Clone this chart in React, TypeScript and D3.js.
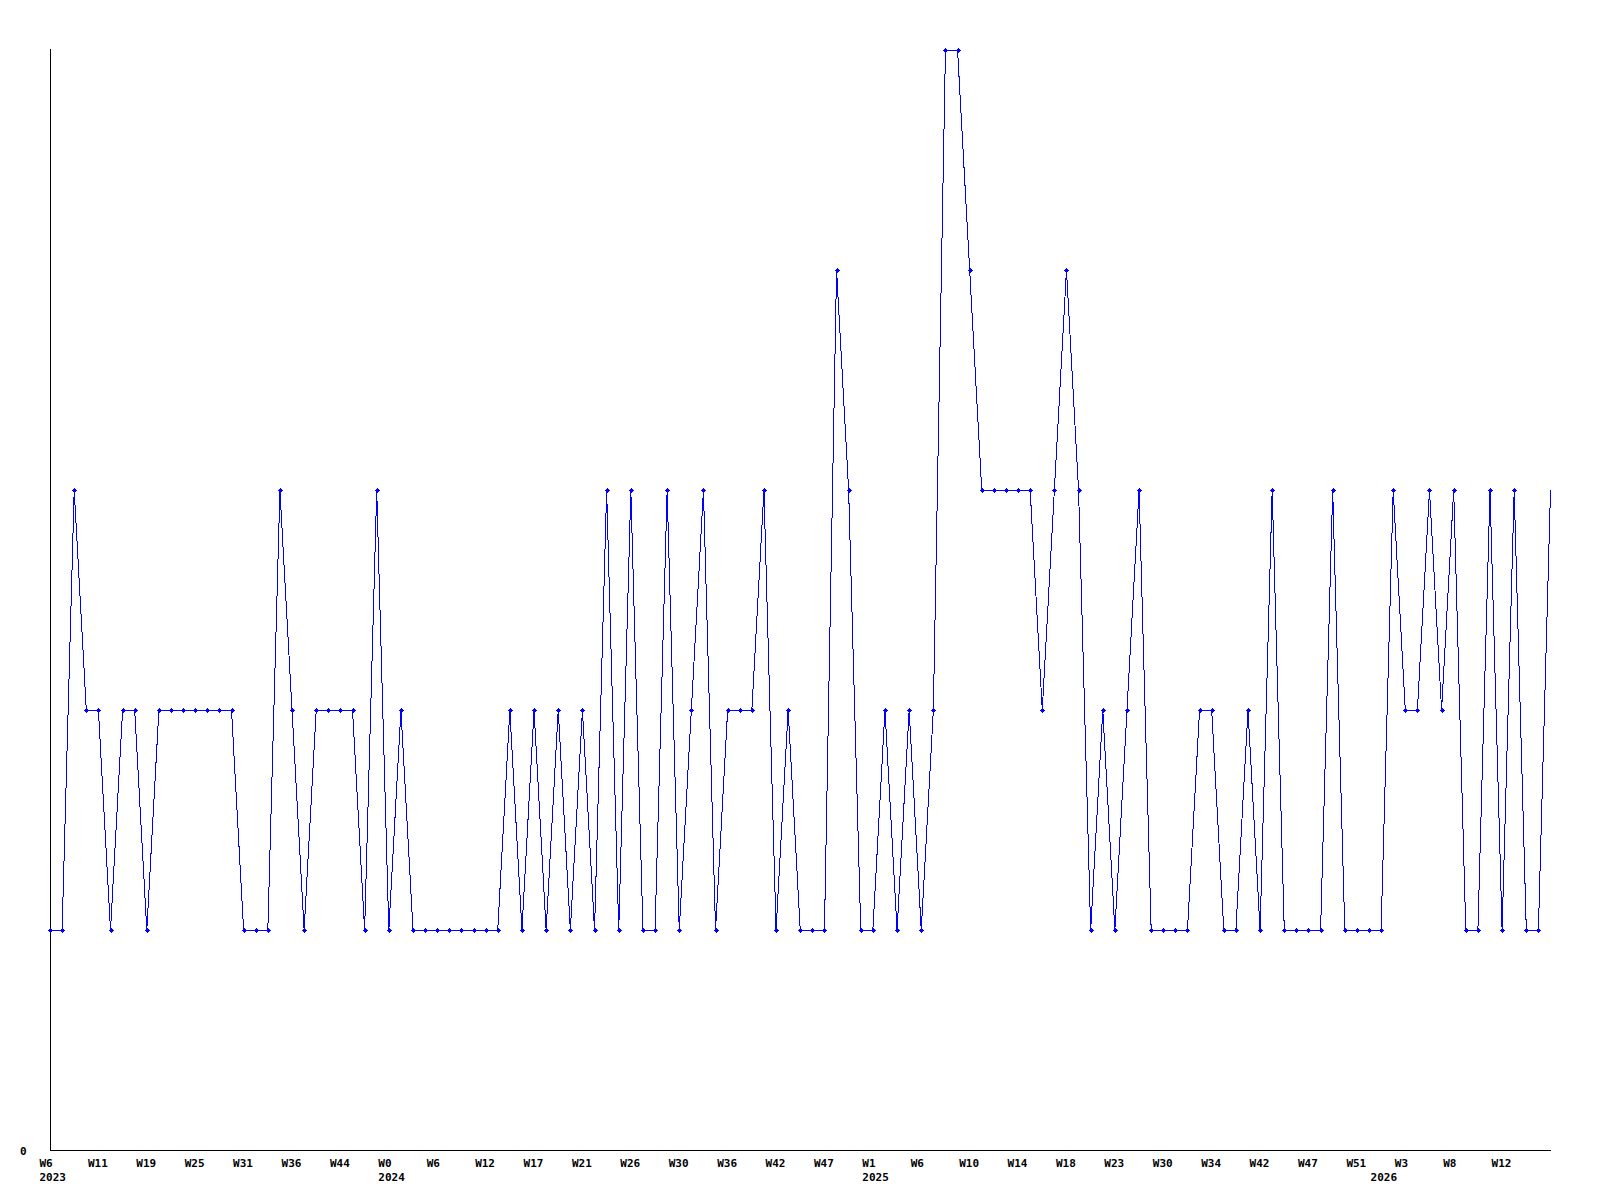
import * as d3 from 'd3';

// one value per sample (levels 1..5)
const values = [
  1, 1, 3, 2, 2, 1, 2, 2, 1, 2,
  2, 2, 2, 2, 2, 2, 1, 1, 1, 3,
  2, 1, 2, 2, 2, 2, 1, 3, 1, 2,
  1, 1, 1, 1, 1, 1, 1, 1, 2, 1,
  2, 1, 2, 1, 2, 1, 3, 1, 3, 1,
  1, 3, 1, 2, 3, 1, 2, 2, 2, 3,
  1, 2, 1, 1, 1, 4, 3, 1, 1, 2,
  1, 2, 1, 2, 5, 5, 4, 3, 3, 3,
  3, 3, 2, 3, 4, 3, 1, 2, 1, 2,
  3, 1, 1, 1, 1, 2, 2, 1, 1, 2,
  1, 3, 1, 1, 1, 1, 3, 1, 1, 1,
  1, 3, 2, 2, 3, 2, 3, 1, 1, 3,
  1, 3, 1, 1, 3,
];

// a week label on every 4th sample
const weekLabels = [
  'W6', 'W11', 'W19', 'W25', 'W31', 'W36', 'W44', 'W0', 'W6', 'W12', 'W17',
  'W21', 'W26', 'W30', 'W36', 'W42', 'W47', 'W1', 'W6', 'W10', 'W14', 'W18',
  'W23', 'W30', 'W34', 'W42', 'W47', 'W51', 'W3', 'W8', 'W12',
];
const labelStep = 4;

// year labels and the sample index they sit under
const yearLabels = ['2023', '2024', '2025', '2026'];
const yearIndex = [0, 28, 68, 110];

const yMax = 5;

export default function App() {
  const width = 1600;
  const height = 1200;
  const left = 50;
  const right = 1550.5;
  const top = 50;
  const bottom = 1150;

  const x = d3.scaleLinear().domain([0, values.length - 1]).range([left, right]);
  const y = d3.scaleLinear().domain([0, yMax]).range([bottom, top]);

  const line = d3
    .line<number>()
    .x((_, i) => x(i))
    .y((d) => y(d));

  const font = { fontFamily: '"DejaVu Sans Mono", monospace', fontWeight: 700, fontSize: 11 };

  return (
    <svg
      width={width}
      height={height}
      style={{ position: 'absolute', left: 0, top: 0, background: 'white' }}
    >
      {/* axes */}
      <line x1={left + 0.5} x2={left + 0.5} y1={top - 1} y2={bottom} stroke="black" shapeRendering="crispEdges" />
      <line x1={left} x2={right} y1={bottom + 0.5} y2={bottom + 0.5} stroke="black" shapeRendering="crispEdges" />
      <text x={20} y={bottom + 5} {...font}>
        0
      </text>

      {/* x labels */}
      {weekLabels.map((w, i) => (
        <text key={`w${i}`} x={x(i * labelStep) - 10.5} y={bottom + 17} {...font}>
          {w}
        </text>
      ))}
      {yearLabels.map((yr, i) => (
        <text key={`y${i}`} x={x(yearIndex[i]) - 10.5} y={bottom + 31} {...font}>
          {yr}
        </text>
      ))}

      {/* series */}
      <path d={line(values) ?? ''} fill="none" stroke="#0000ff" strokeWidth={1} shapeRendering="crispEdges" />
      {values.slice(0, -1).map((v, i) => {
        const cx = Math.round(x(i));
        const cy = Math.round(y(v));
        return (
          <g key={i} fill="#0000ff" shapeRendering="crispEdges">
            <rect x={cx - 2} y={cy} width={5} height={1} />
            <rect x={cx} y={cy - 2} width={1} height={5} />
            <rect x={cx - 1} y={cy - 1} width={3} height={3} />
          </g>
        );
      })}
    </svg>
  );
}
